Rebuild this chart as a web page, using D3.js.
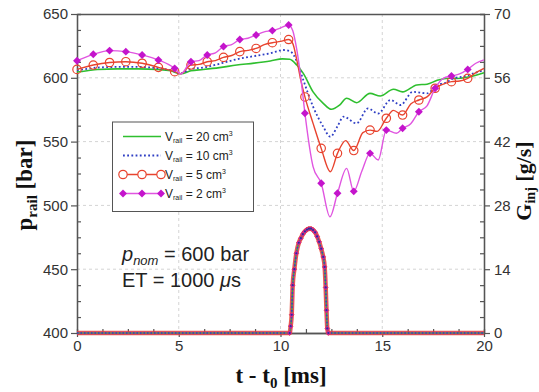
<!DOCTYPE html>
<html><head><meta charset="utf-8">
<script src="https://cdn.jsdelivr.net/npm/d3@7"></script>
<style>body{margin:0;background:#fff}svg{display:block}</style>
</head><body><svg id="c" width="539" height="392"></svg>
<script>
// ---------- data ----------
const xTicks = [0, 5, 10, 15, 20];
const yTicks = [400, 450, 500, 550, 600, 650];
const y2Ticks = [0, 14, 28, 42, 56, 70];

// V_rail = 20 cm3
const t20 = [0,0.5,1,2,3,4,4.6,5.1,5.6,6.2,7,7.85,8.7,9.5,10.1,10.45,10.8,11.12,11.6,12.1,12.5,12.9,13.25,13.74,14.4,14.9,15.55,16.0,16.7,17.2,17.7,18.3,18.7,19.15,19.6,20];
const p20 = [604.5,605.5,606.5,607,607,606.5,605.5,603.2,605.5,606.5,608,610,611.5,613.2,614.8,614.5,610,603.5,589,580,575.3,578.5,584,580.5,587.8,585.7,591,589,594.4,595,598,599.6,599.5,600.4,602,604];
// V_rail = 10 cm3
const t10 = [0,0.5,1,2,3,4,4.6,5.1,5.6,6.2,7,7.85,8.7,9.5,10.15,10.5,10.8,11.12,11.6,12.1,12.45,12.8,13.1,13.74,14.3,14.8,15.4,15.9,16.5,17.2,17.7,18.1,18.5,19.0,19.5,20];
const p10 = [606,607,608,608.5,608.5,607.5,606,603.5,607,608,611,614.5,617,619.2,621.8,620.5,613,598.3,577.4,561.7,553.8,562,569.5,564.3,576,572,582.6,578.7,589,587.8,594.4,596,599.6,601,603.5,606];
// V_rail = 5 cm3
const t5 = [0,0.8,1.6,2.4,3.2,4.0,4.8,5.1,5.6,6.0,6.4,6.8,7.2,7.6,8.0,8.4,8.8,9.2,9.6,10.0,10.4,10.6,10.8,11.0,11.2,11.6,12.0,12.45,12.8,13.2,13.6,14.05,14.4,14.75,15.2,15.55,16.0,16.4,16.8,17.2,17.6,18.0,18.4,18.8,19.2,19.6,20];
const p5 = [606.6,610,612,612.6,611.4,608.2,604.8,603.2,610,610.5,612.6,613.5,616,617.5,620.5,621.5,623,626,627.5,628.5,630,627,614,598,585,564.3,544.7,526.4,540.8,550.8,543,557,559,558,568.3,574.5,570.8,579.5,582.6,585,591.8,595,597,597.5,599.6,604,607.4];
const mark5 = [606.6,610,612,612.6,611.4,608.2,604.8,610,612.6,616,620.5,623,627.5,630,585,544.7,540.8,543,559,568.3,570.8,582.6,591.8,597,599.6];
// V_rail = 2 cm3
const t2 = [0,0.8,1.6,2.4,3.2,4.0,4.8,5.1,5.6,6.0,6.4,6.8,7.2,7.6,8.0,8.4,8.8,9.2,9.6,10.0,10.4,10.6,10.8,11.0,11.2,11.6,12.0,12.43,12.8,13.25,13.6,14.0,14.4,14.8,15.2,15.7,16.0,16.4,16.8,17.2,17.6,18.0,18.4,18.8,19.2,19.6,20];
const p2 = [613.4,618.4,621.3,620.5,617.9,614,607.4,603,612.6,613.5,617.9,619.5,624.5,626,630,631,633.5,636,637,639,641.4,637,622,600,572.2,530.4,517.3,491,509.5,529,511,527,540.8,535.6,559,556.5,560.4,564,573.4,578,591.8,599.6,601.4,603,606.6,611.4,614];
const mark2 = [613.4,618.4,621.3,620.5,617.9,614,607.4,612.6,617.9,624.5,630,633.5,637,641.4,572.2,517.3,509.5,511,540.8,559,560.4,573.4,591.8,601.4,606.6];
const markTimes = [0,0.8,1.6,2.4,3.2,4.0,4.8,5.6,6.4,7.2,8.0,8.8,9.6,10.4,11.2,12.0,12.8,13.6,14.4,15.2,16.0,16.8,17.6,18.4,19.2];

// injection rate G_inj [g/s] (same for all rail volumes)
const gT = [0,10.45,10.5,10.55,10.6,10.68,10.78,10.9,11.0,11.1,11.2,11.3,11.4,11.5,11.6,11.7,11.8,11.9,12.0,12.1,12.17,12.22,12.26,12.3,12.35,20];
const gV = [0,0,1.5,4,10.5,14,17.5,19.8,20.8,21.7,22.3,22.7,22.9,22.9,22.6,22.1,21.2,20.0,18.5,16.7,14.5,10,5,1,0,0];

// ---------- chart ----------
const svg = d3.select("#c");
const L = 77, R = 484, T = 14, B = 333;
const x = d3.scaleLinear([0, 20], [L, R]);
const y = d3.scaleLinear([400, 650], [B, T]);
const y2 = d3.scaleLinear([0, 70], [B, T]);

const cG = "#2fbf2f", cB = "#2f3fc4", cR = "#e8432e", cM = "#e055e0", cMk = "#c414cc";
const axisCol = "#555";

// grid
const grid = svg.append("g").attr("stroke", "#d4d4d4").attr("stroke-dasharray", "3,3").attr("stroke-width", 1);
[5, 10, 15].forEach(v => grid.append("line").attr("x1", x(v)).attr("x2", x(v)).attr("y1", T).attr("y2", B));
[450, 500, 550, 600].forEach(v => grid.append("line").attr("x1", L).attr("x2", R).attr("y1", y(v)).attr("y2", y(v)));

// axes
function styleAxis(g) {
  g.select(".domain").attr("stroke", axisCol).attr("stroke-width", 1.3);
  g.selectAll(".tick line").attr("stroke", axisCol).attr("stroke-width", 1.2);
  g.selectAll(".tick text").attr("fill", "#333").attr("font-family", "Liberation Sans, Arial, sans-serif").attr("font-size", 15);
}
const minorY = d3.range(400, 650.1, 12.5).filter(v => v % 50 !== 0);
const minorY2 = d3.range(0, 70.1, 3.5).filter(v => v % 14 !== 0);
const minorX = d3.range(0, 20.1, 1.25).filter(v => v % 5 !== 0);

svg.append("g").attr("transform", `translate(${L},0)`).call(d3.axisLeft(y).tickValues(minorY).tickSize(-4).tickFormat("")).call(styleAxis);
svg.append("g").attr("transform", `translate(${L},0)`).call(d3.axisLeft(y).tickValues(yTicks).tickSize(6).tickPadding(3).tickSizeOuter(0)).call(styleAxis);
svg.append("g").attr("transform", `translate(${R},0)`).call(d3.axisRight(y2).tickValues(minorY2).tickSize(-4).tickFormat("")).call(styleAxis);
svg.append("g").attr("transform", `translate(${R},0)`).call(d3.axisRight(y2).tickValues(y2Ticks).tickSize(6).tickPadding(4).tickSizeOuter(0)).call(styleAxis);
svg.append("g").attr("transform", `translate(0,${T})`).call(d3.axisTop(x).tickValues([]).tickSizeOuter(0)).call(styleAxis);
svg.append("g").attr("transform", `translate(0,${B})`).call(d3.axisBottom(x).tickValues(minorX).tickSize(-4).tickFormat("")).call(styleAxis);
svg.append("g").attr("transform", `translate(0,${B})`).call(d3.axisBottom(x).tickValues(xTicks).tickSize(4).tickPadding(3).tickSizeOuter(0)).call(styleAxis);

// injection rate curves
const gData = gT.map((t, i) => [t, gV[i]]);
const gLine = d3.line().x(d => x(d[0])).y(d => y2(d[1])).curve(d3.curveMonotoneX);
svg.append("path").attr("d", gLine(gData)).attr("fill", "none").attr("stroke", cR).attr("stroke-width", 4.5).attr("opacity", 0.85);
svg.append("path").attr("d", gLine(gData)).attr("fill", "none").attr("stroke", cMk).attr("stroke-width", 2.5).attr("opacity", 0.6);
svg.append("path").attr("d", gLine(gData)).attr("fill", "none").attr("stroke", cG).attr("stroke-width", 1.2);
svg.append("path").attr("d", gLine(gData)).attr("fill", "none").attr("stroke", cB).attr("stroke-width", 1.5).attr("stroke-dasharray", "1.5,2");
const dome = gData.filter(d => d[0] > 10.4 && d[0] < 12.4);
svg.append("g").selectAll("path").data(dome).join("path")
  .attr("d", d3.symbol(d3.symbolDiamond2, 16)).attr("transform", d => `translate(${x(d[0])},${y2(d[1])})`)
  .attr("fill", cMk).attr("stroke", cR).attr("stroke-width", 0.6);
svg.append("g").selectAll("circle").data(dome).join("circle")
  .attr("cx", d => x(d[0])).attr("cy", d => y2(d[1])).attr("r", 1.1).attr("fill", "#2a3a8a");

// rail pressure curves
const pLine = d3.line().x(d => x(d[0])).y(d => y(d[1])).curve(d3.curveMonotoneX);
const zip = (a, b) => a.map((t, i) => [t, b[i]]);
svg.append("path").attr("d", pLine(zip(t20, p20))).attr("fill", "none").attr("stroke", cG).attr("stroke-width", 1.6);
svg.append("path").attr("d", pLine(zip(t10, p10))).attr("fill", "none").attr("stroke", cB).attr("stroke-width", 1.8).attr("stroke-dasharray", "1.8,2.4");
svg.append("path").attr("d", pLine(zip(t5, p5))).attr("fill", "none").attr("stroke", cR).attr("stroke-width", 1.4);
svg.append("g").selectAll("circle").data(zip(markTimes, mark5)).join("circle")
  .attr("cx", d => x(d[0])).attr("cy", d => y(d[1])).attr("r", 4.2)
  .attr("fill", "none").attr("stroke", cR).attr("stroke-width", 1.2);
svg.append("path").attr("d", pLine(zip(t2, p2))).attr("fill", "none").attr("stroke", cM).attr("stroke-width", 1.4);
svg.append("g").selectAll("path").data(zip(markTimes, mark2)).join("path")
  .attr("d", d3.symbol(d3.symbolDiamond2, 40)).attr("transform", d => `translate(${x(d[0])},${y(d[1])})`)
  .attr("fill", cMk);

// legend
const lg = svg.append("g");
lg.append("rect").attr("x", 112.5).attr("y", 122).attr("width", 141).attr("height", 89.5)
  .attr("fill", "#fff").attr("stroke", "#555").attr("stroke-width", 1);
const legRows = [
  {label: "20", col: cG, dash: null, mark: null},
  {label: "10", col: cB, dash: "1.8,2.4", mark: null},
  {label: "5", col: cR, dash: null, mark: "circle"},
  {label: "2", col: cM, dash: null, mark: "diamond"}
];
legRows.forEach((r, i) => {
  const yy = 136.5 + i * 19;
  lg.append("line").attr("x1", 123).attr("x2", 161).attr("y1", yy).attr("y2", yy)
    .attr("stroke", r.col).attr("stroke-width", r.dash ? 1.8 : 1.5).attr("stroke-dasharray", r.dash);
  [123, 142, 161].forEach(xx => {
    if (r.mark === "circle") lg.append("circle").attr("cx", xx).attr("cy", yy).attr("r", 4.2).attr("fill", "#fff").attr("stroke", cR).attr("stroke-width", 1.2);
    if (r.mark === "diamond") lg.append("path").attr("d", d3.symbol(d3.symbolDiamond2, 40)).attr("transform", `translate(${xx},${yy})`).attr("fill", cMk);
  });
  const tx = lg.append("text").attr("x", 165).attr("y", yy + 4.5).attr("font-family", "Liberation Sans, Arial, sans-serif").attr("font-size", 12).attr("fill", "#222");
  tx.append("tspan").text("V");
  tx.append("tspan").attr("font-size", 7).attr("dy", 2).text("rail");
  tx.append("tspan").attr("dy", -2).text(" = " + r.label + " cm");
  tx.append("tspan").attr("font-size", 7).attr("dy", -5).text("3");
});

// annotation
const ff = "Liberation Sans, Arial, sans-serif";
const a1 = svg.append("text").attr("x", 122).attr("y", 261).attr("font-family", ff).attr("font-size", 20).attr("fill", "#222");
a1.append("tspan").attr("font-style", "italic").text("p");
a1.append("tspan").attr("font-style", "italic").attr("font-size", 13).attr("dy", 4).text("nom");
a1.append("tspan").attr("dy", -4).text(" = 600 bar");
const a2 = svg.append("text").attr("x", 122).attr("y", 287).attr("font-family", ff).attr("font-size", 20).attr("fill", "#222");
a2.append("tspan").text("ET = 1000 ");
a2.append("tspan").attr("font-style", "italic").text("μ");
a2.append("tspan").text("s");

// axis titles
const sf = "Liberation Serif, Times New Roman, serif";
const xt = svg.append("text").attr("x", 281).attr("y", 383).attr("text-anchor", "middle").attr("font-family", sf).attr("font-weight", "bold").attr("font-size", 23).attr("fill", "#111");
xt.append("tspan").text("t - t");
xt.append("tspan").attr("font-size", 15).attr("dy", 5).text("0");
xt.append("tspan").attr("dy", -5).text(" [ms]");

const yt = svg.append("text").attr("transform", "translate(32,185) rotate(-90)").attr("text-anchor", "middle").attr("font-family", sf).attr("font-weight", "bold").attr("font-size", 23).attr("fill", "#111");
yt.append("tspan").text("p");
yt.append("tspan").attr("font-size", 15).attr("dy", 5).text("rail");
yt.append("tspan").attr("dy", -5).text(" [bar]");

const y2t = svg.append("text").attr("transform", "translate(531,181) rotate(-90)").attr("text-anchor", "middle").attr("font-family", sf).attr("font-weight", "bold").attr("font-size", 22).attr("fill", "#111");
y2t.append("tspan").text("G");
y2t.append("tspan").attr("font-size", 14).attr("dy", 4).text("inj");
y2t.append("tspan").attr("dy", -4).text(" [g/s]");
</script></body></html>
